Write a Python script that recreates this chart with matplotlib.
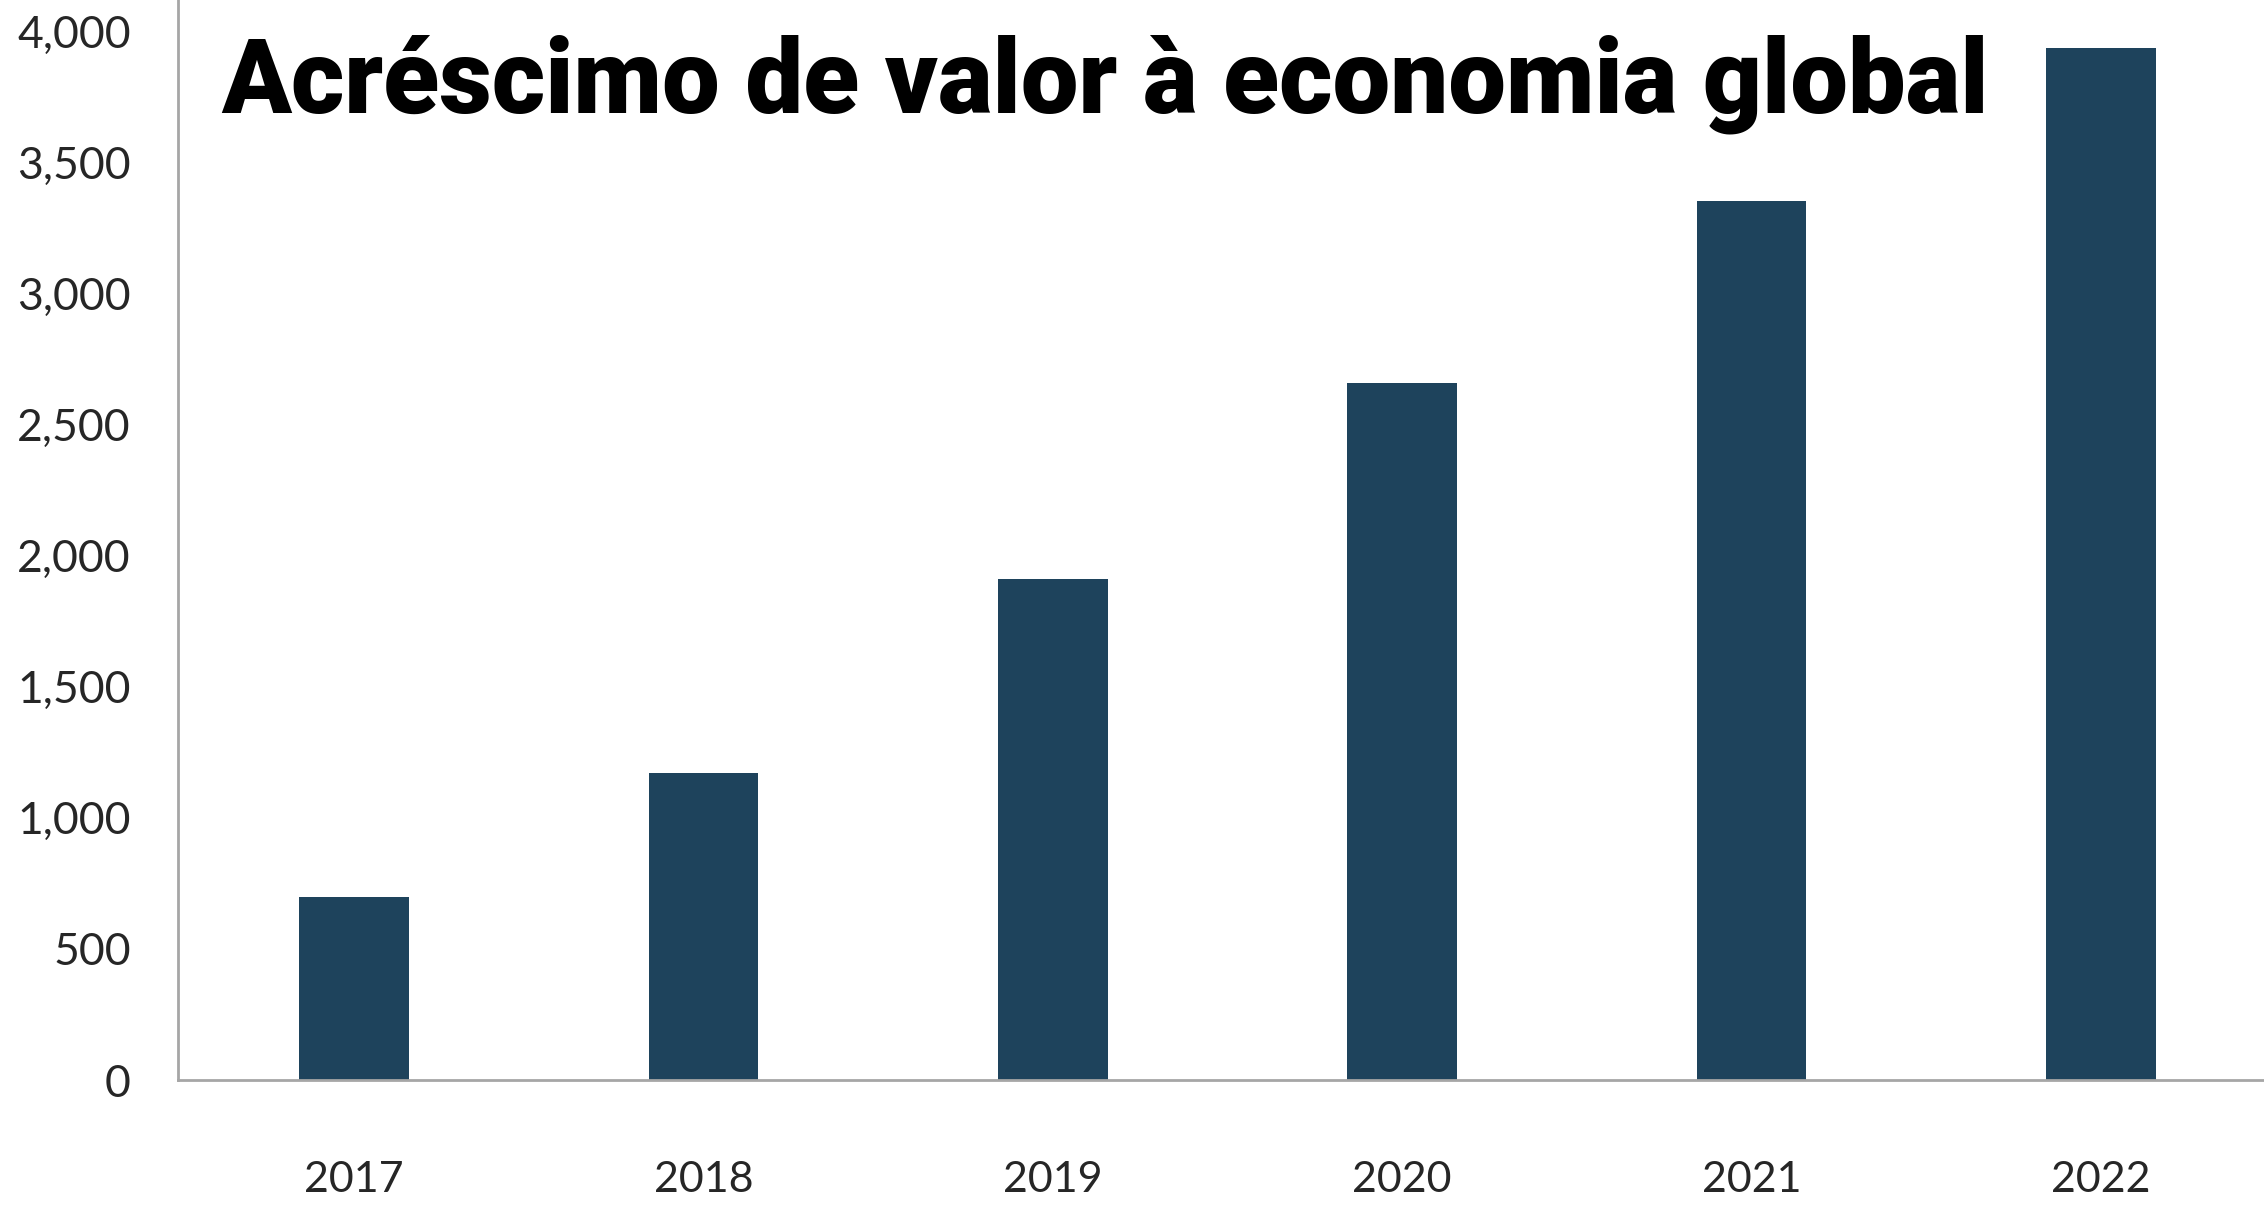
import matplotlib.pyplot as plt
from matplotlib.ticker import FuncFormatter

# values
years = ["2017", "2018", "2019", "2020", "2021", "2022"]
values = [700, 1170, 1910, 2660, 3355, 3935]
yticks = [0, 500, 1000, 1500, 2000, 2500, 3000, 3500, 4000]

title = "Acréscimo de valor à economia global"

bar_color = "#1E435C"
axis_color = "#A6A6A6"
label_color = "#262626"

fig = plt.figure(figsize=(22.64, 12.07), dpi=100)
ax = fig.add_axes([0.0786, 0.1052, 0.9214, 0.8948])

ax.bar(range(len(years)), values, width=0.314, color=bar_color)

ax.set_xlim(-0.504, 5.467)
ax.set_ylim(0, 4120)
ax.set_xticks(range(len(years)))
ax.set_xticklabels(years)
ax.set_yticks(yticks)
ax.yaxis.set_major_formatter(FuncFormatter(lambda v, p: f"{int(v):,}"))

for side in ["top", "right"]:
    ax.spines[side].set_visible(False)
for side in ["left", "bottom"]:
    ax.spines[side].set_color(axis_color)
    ax.spines[side].set_linewidth(2)

ax.tick_params(axis="both", length=0, labelcolor=label_color)
ax.tick_params(axis="y", pad=34, labelsize=32)
ax.tick_params(axis="x", pad=58, labelsize=31)
for lab in ax.get_xticklabels() + ax.get_yticklabels():
    lab.set_family(["Lato", "DejaVu Sans"])

fig.text(221 / 2264, 1 - 113 / 1207, title, ha="left", va="baseline",
         fontsize=74, fontweight="heavy", color="black",
         family=["Liberation Sans Narrow", "Roboto", "DejaVu Sans"])

fig.savefig("out.png", dpi=100)
